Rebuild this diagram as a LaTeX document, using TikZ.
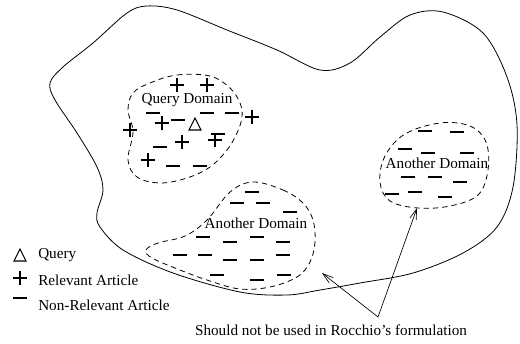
\documentclass[tikz,border=0pt]{standalone}
\usepackage{fontspec}
\setmainfont{Liberation Serif}
\usetikzlibrary{arrows.meta}
\begin{document}
\begin{tikzpicture}[x=0.75pt,y=-0.75pt]

    \tikzset{
      relevant/.style={line width=1.4pt},
      nonrelevant/.style={line width=1.4pt},
      query/.style={line width=0.8pt,line join=miter},
      domainline/.style={dash pattern=on 4pt off 3pt,line width=0.6pt},
      caption/.style={font=\fontsize{11.4}{13.7}\selectfont,inner sep=0pt},
      pointer/.style={-{Straight Barb[length=8pt,width=5pt]},line width=0.5pt},
    }
    \useasboundingbox (0,0) rectangle (520,343);

    % space of all articles
    \draw[line width=0.6pt] plot[smooth cycle,tension=0.55] coordinates {(63,67) (93,43) (127,13) (147,6) (177,10) (227,30) (277,50) (320,70) (350,63) (380,37) (410,15) (443,12) (483,33) (507,77) (517,125) (513,187) (497,227) (463,253) (413,273) (360,283) (320,290) (287,295) (240,292) (173,273) (123,250) (100,227) (97,213) (103,190) (97,167) (77,133) (55,100) (50,83)};

    % domains
    \draw[domainline] plot[smooth cycle,tension=0.6] coordinates {(150,83) (177,75) (210,76) (230,88) (240,103) (242,117) (237,133) (227,150) (210,167) (187,178) (160,183) (137,177) (128,160) (133,132) (128,110) (133,93)};
    \draw[domainline] plot[smooth cycle,tension=0.6] coordinates {(253,182) (283,190) (303,203) (313,220) (315,242) (310,262) (297,277) (270,287) (240,289) (210,281) (180,270) (152,258) (146,250) (158,243) (185,236) (207,220) (230,192)};
    \draw[domainline] plot[smooth cycle,tension=0.6] coordinates {(440,123) (470,126) (486,142) (488,170) (478,195) (450,206) (418,208) (390,201) (380,182) (385,156) (405,134)};

    \node[caption] (qdomain) at (187,100) {Query Domain};
    \node[caption] (adomainA) at (256,223) {Another Domain};
    \node[caption] (adomainB) at (437,163) {Another Domain};

    % relevant articles
    \foreach \x/\y in {177/85, 207/85, 252/117, 162/123, 130/130, 182/142, 215/140, 148/160, 20/278}
      \draw[relevant] (\x-7,\y) -- (\x+7,\y) (\x,\y-7) -- (\x,\y+7);

    % non-relevant articles
    \foreach \x/\y in {153/113, 178/120, 207/113, 232/113, 218/134, 160/147, 173/166, 200/166,
                       252/192, 237/203, 263/203, 290/212, 203/237, 230/242, 257/237, 283/242,
                       180/255, 205/255, 230/260, 257/260, 283/255, 217/275, 257/280, 284/275,
                       425/131, 457/132, 405/149, 428/153, 467/153, 408/177, 435/177, 460/182,
                       392/194, 415/192, 445/197, 20/298}
      \draw[nonrelevant] (\x-7,\y) -- (\x+7,\y);

    % queries
    \foreach \x/\y in {195/124, 20/255}
      \draw[query] (\x-6,\y+6) -- (\x,\y-6) -- (\x+6,\y+6) -- cycle;

    % legend
    \node[caption,anchor=west] (legquery) at (38,255) {Query};
    \node[caption,anchor=west] (legrel) at (38,280) {Relevant Article};
    \node[caption,anchor=west] (legnonrel) at (38,305) {Non-Relevant Article};

    % note
    \node[caption] (note) at (331,330) {Should not be used in Rocchio’s formulation};
    \coordinate (fork) at (378,317);
    \coordinate (tipA) at (322,273);
    \coordinate (tipB) at (417,208);
    \draw[pointer] (fork) -- (tipA);
    \draw[pointer] (fork) -- (tipB);

\end{tikzpicture}
\end{document}
